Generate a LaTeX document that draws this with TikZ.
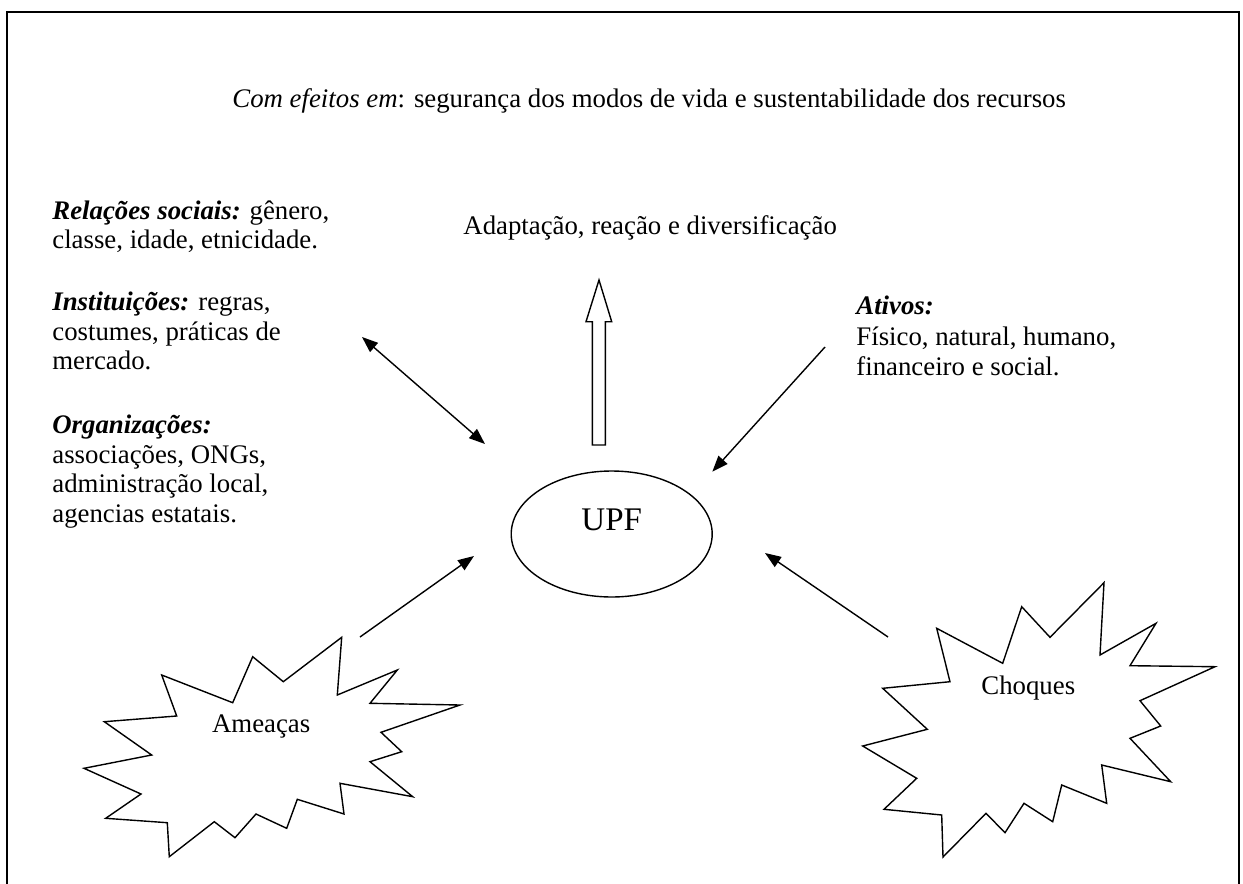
\documentclass[tikz,border=0pt]{standalone}
\usepackage{fontspec}
\setmainfont{Liberation Serif}
\usetikzlibrary{shapes.geometric,arrows.meta}
\begin{document}
\begin{tikzpicture}[x=0.5pt,y=-0.5pt,
  txt/.style={anchor=base west,inner sep=0pt,font=\fontsize{13.4}{15}\selectfont},
  conn/.style={line width=0.7pt,-{Triangle[length=8pt,width=6pt]}},
  dconn/.style={line width=0.7pt,{Triangle[length=8pt,width=6pt]}-{Triangle[length=8pt,width=6pt]}},
  burst/.style={line width=0.7pt,line join=miter},
  frame/.style={line width=0.9pt}]
\useasboundingbox (0,0) rectangle (1243,884);
\draw[frame] (7,884) -- (7,12) -- (1239,12) -- (1239,884);

% top texts
\node[txt] (effects) at (232,107) {\textit{Com efeitos em}: segurança dos modos de vida e sustentabilidade dos recursos};
\node[txt] (adapt) at (463,234) {Adaptação, reação e diversificação};

% left block
\node[txt] (rel1) at (52,219) {\textbf{\textit{Relações sociais:}} gênero,};
\node[txt] (rel2) at (52,248) {classe, idade, etnicidade.};
\node[txt] (ins1) at (52,310) {\textbf{\textit{Instituições:}} regras,};
\node[txt] (ins2) at (52,340) {costumes, práticas de};
\node[txt] (ins3) at (52,369) {mercado.};
\node[txt] (org1) at (52,433) {\textbf{\textit{Organizações:}}};
\node[txt] (org2) at (52,463) {associações, ONGs,};
\node[txt] (org3) at (52,492) {administração local,};
\node[txt] (org4) at (52,522) {agencias estatais.};

% right block
\node[txt] (at1) at (856,314) {\textbf{\textit{Ativos:}}};
\node[txt] (at2) at (856,345) {Físico, natural, humano,};
\node[txt] (at3) at (856,375) {financeiro e social.};

% UPF
\node[draw,ellipse,line width=0.7pt,minimum width=100.5pt,minimum height=63pt,inner sep=0pt] (upf) at (611.7,534) {};
\node[anchor=base,inner sep=0pt,font=\fontsize{16.5}{19}\selectfont] (upft) at (611.7,530) {UPF};

% hollow up arrow
\draw[line width=0.7pt,line join=miter] (592.3,445) -- (592.3,321.7) -- (586,321.7) -- (599,280) -- (611.7,321.7) -- (605.3,321.7) -- (605.3,445) -- cycle;

% starbursts
\draw[burst] (161.7,675) -- (232.7,702.7) -- (252.7,656.7) -- (283.3,681.7) -- (341.7,637.3) -- (337.3,695) -- (397.3,670) -- (370,703.3) -- (460,705) -- (381,732.3) -- (401.7,751.7) -- (370,761.7) -- (412.7,796.7) -- (340,783.3) -- (344,814) -- (297.3,799.3) -- (286.7,828.3) -- (256,814) -- (235,837.7) -- (214.3,821.7) -- (169.3,856.7) -- (167.3,822.7) -- (105.7,818.3) -- (141,794) -- (84,768.3) -- (151.7,755) -- (104.3,721.7) -- (176.7,716) -- cycle;
\node[txt] (ameacas) at (211.7,732.7) {Ameaças};

\draw[burst] (936.7,628.3) -- (1002.7,663.3) -- (1021.7,606.7) -- (1050,637.3) -- (1104,582.7) -- (1100,655) -- (1156,623.3) -- (1130,665.7) -- (1215,666.7) -- (1140,700.7) -- (1160.7,726) -- (1130,738.3) -- (1170.7,781.7) -- (1101.7,765) -- (1106.7,803.3) -- (1061.7,785) -- (1052.7,821.7) -- (1024,803.3) -- (1005,832.7) -- (986,813.3) -- (943,857) -- (941.7,815) -- (884,809.3) -- (916.7,778.3) -- (862.7,746) -- (927.3,729.3) -- (882.7,688.3) -- (950,681.7) -- cycle;
\node[txt] (choques) at (981,694) {Choques};

% connector endpoints
\coordinate (instA) at (362,337);
\coordinate (instB) at (485,444);
\coordinate (atA) at (825,347);
\coordinate (atB) at (712.3,471.7);
\coordinate (amA) at (360,637);
\coordinate (amB) at (474,556);
\coordinate (chA) at (888,637);
\coordinate (chB) at (765,553);

\draw[dconn] (instA) -- (instB);
\draw[conn] (atA) -- (atB);
\draw[conn] (amA) -- (amB);
\draw[conn] (chA) -- (chB);
\end{tikzpicture}
\end{document}
